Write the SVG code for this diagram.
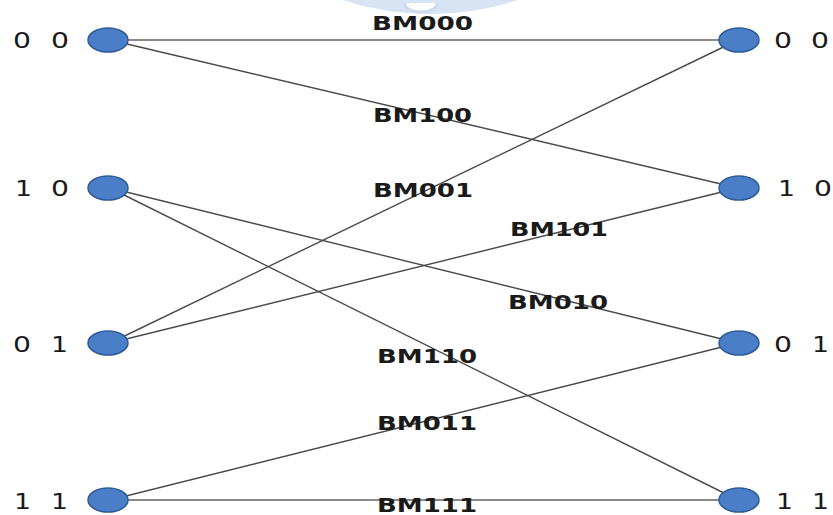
<svg xmlns="http://www.w3.org/2000/svg" width="833" height="515" viewBox="0 0 833 515">
  <style>
    .edge { stroke: #4a4a4a; stroke-width: 1.4; fill: none; }
    .flat { stroke: #8a8a8a; stroke-width: 2.2; fill: none; }
    .node { fill: #4a7fc8; stroke: #2e5c9a; stroke-width: 1.5; }
    .state { font-family: "DejaVu Sans", "Liberation Sans", sans-serif; font-size: 21px; fill: #1a1a1a; }
    .bm { font-family: "DejaVu Sans", "Liberation Sans", sans-serif; font-size: 19px; font-weight: bold; fill: #1a1a1a; }
  </style>
  <rect width="833" height="515" fill="#ffffff"/>

  <!-- faint emblem at the top edge -->
  <g id="emblem" opacity="0.45">
    <path d="M342 0 Q430 28 518 0 Z" fill="#a9c2e6"/>
    <ellipse cx="421" cy="4" rx="16" ry="8" fill="#ffffff" stroke="#8fb0df" stroke-width="3"/>
    <rect x="402" y="0" width="38" height="3" fill="#a9c2e6"/>
  </g>

  <!-- trellis branches -->
  <g id="connectors">
    <line class="flat" x1="110" y1="40" x2="738" y2="40"/>
    <line class="edge" x1="110" y1="40" x2="738" y2="188"/>
    <line class="edge" x1="110" y1="188" x2="738" y2="343"/>
    <line class="edge" x1="110" y1="188" x2="738" y2="500"/>
    <line class="edge" x1="110" y1="343" x2="738" y2="40"/>
    <line class="edge" x1="110" y1="343" x2="738" y2="188"/>
    <line class="edge" x1="110" y1="500" x2="738" y2="343"/>
    <line class="flat" x1="110" y1="500" x2="738" y2="500"/>
  </g>

  <!-- branch metric labels -->
  <g id="labels">
    <text class="bm" x="372" y="30" textLength="101" lengthAdjust="spacingAndGlyphs">BM000</text>
    <text class="bm" x="373" y="122" textLength="99" lengthAdjust="spacingAndGlyphs">BM100</text>
    <text class="bm" x="373" y="197" textLength="100" lengthAdjust="spacingAndGlyphs">BM001</text>
    <text class="bm" x="510" y="236" textLength="98" lengthAdjust="spacingAndGlyphs">BM101</text>
    <text class="bm" x="508" y="309" textLength="100" lengthAdjust="spacingAndGlyphs">BM010</text>
    <text class="bm" x="377" y="363" textLength="100" lengthAdjust="spacingAndGlyphs">BM110</text>
    <text class="bm" x="377" y="430" textLength="100" lengthAdjust="spacingAndGlyphs">BM011</text>
    <text class="bm" x="377" y="512" textLength="100" lengthAdjust="spacingAndGlyphs">BM111</text>
  </g>

  <!-- left column states -->
  <g id="left-00">
    <ellipse class="node" cx="108" cy="40" rx="20" ry="12"/>
    <text class="state" x="13" y="48" textLength="18" lengthAdjust="spacingAndGlyphs">0</text>
    <text class="state" x="51" y="48" textLength="18" lengthAdjust="spacingAndGlyphs">0</text>
  </g>
  <g id="left-10">
    <ellipse class="node" cx="108" cy="188" rx="20" ry="12"/>
    <text class="state" x="15" y="196" textLength="17" lengthAdjust="spacingAndGlyphs">1</text>
    <text class="state" x="51" y="196" textLength="18" lengthAdjust="spacingAndGlyphs">0</text>
  </g>
  <g id="left-01">
    <ellipse class="node" cx="108" cy="343" rx="20" ry="12"/>
    <text class="state" x="13" y="352" textLength="18" lengthAdjust="spacingAndGlyphs">0</text>
    <text class="state" x="51" y="352" textLength="17" lengthAdjust="spacingAndGlyphs">1</text>
  </g>
  <g id="left-11">
    <ellipse class="node" cx="108" cy="500" rx="20" ry="12"/>
    <text class="state" x="14" y="509" textLength="17" lengthAdjust="spacingAndGlyphs">1</text>
    <text class="state" x="51" y="509" textLength="17" lengthAdjust="spacingAndGlyphs">1</text>
  </g>

  <!-- right column states -->
  <g id="right-00">
    <ellipse class="node" cx="739" cy="40" rx="20" ry="12"/>
    <text class="state" x="774" y="48" textLength="18" lengthAdjust="spacingAndGlyphs">0</text>
    <text class="state" x="811" y="48" textLength="18" lengthAdjust="spacingAndGlyphs">0</text>
  </g>
  <g id="right-10">
    <ellipse class="node" cx="739" cy="188" rx="20" ry="12"/>
    <text class="state" x="778" y="196" textLength="17" lengthAdjust="spacingAndGlyphs">1</text>
    <text class="state" x="814" y="196" textLength="18" lengthAdjust="spacingAndGlyphs">0</text>
  </g>
  <g id="right-01">
    <ellipse class="node" cx="739" cy="343" rx="20" ry="12"/>
    <text class="state" x="774" y="352" textLength="18" lengthAdjust="spacingAndGlyphs">0</text>
    <text class="state" x="812" y="352" textLength="17" lengthAdjust="spacingAndGlyphs">1</text>
  </g>
  <g id="right-11">
    <ellipse class="node" cx="739" cy="500" rx="20" ry="12"/>
    <text class="state" x="776" y="509" textLength="17" lengthAdjust="spacingAndGlyphs">1</text>
    <text class="state" x="812" y="509" textLength="17" lengthAdjust="spacingAndGlyphs">1</text>
  </g>
</svg>
